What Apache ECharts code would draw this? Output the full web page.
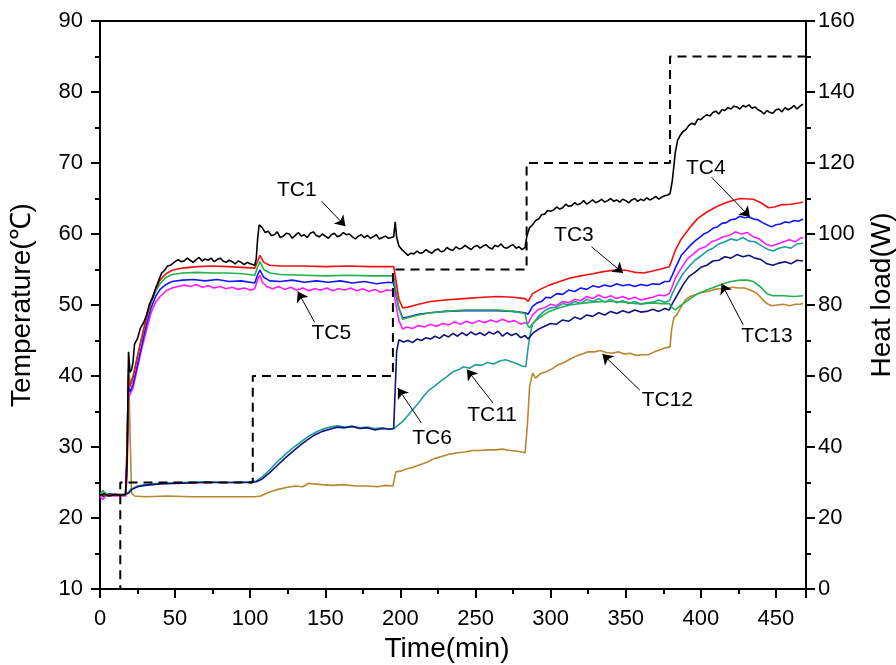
<!DOCTYPE html>
<html>
<head>
<meta charset="utf-8">
<script src="https://cdn.jsdelivr.net/npm/echarts@6/dist/echarts.min.js"></script>
<style>
  html, body { margin: 0; padding: 0; background: #fff; }
  #chart { width: 896px; height: 665px; }
</style>
</head>
<body>
<div id="chart"></div>
<script>
// Thermocouple temperatures [time (min), temperature (°C)]
const tc1 = [[0,23.2],[3,23.4],[6,23.1],[10,23.3],[14,23.2],[17,23.3],[18,28],[19,43.4],[20,40.5],[21,40.9],[22,42],[23,44.5],[25,45.3],[27,46.8],[29,47.5],[31,48.6],[33,50.2],[35,51.0],[37,52.3],[39,53.4],[41,54.5],[43,54.9],[45,55.5],[47,55.6],[50,56.1],[52,56.4],[54,56.1],[56,56.2],[58,56.6],[60,56.3],[62,56.0],[64,56.4],[66,56.7],[68,56.2],[70,56.5],[72,56.3],[74,56.6],[76,56.1],[78,56.4],[80,56.6],[82,56.2],[84,56.0],[86,56.3],[88,56.1],[90,55.8],[92,56.2],[94,56.0],[96,55.7],[98,56.0],[100,55.8],[103,55.6],[104,56.5],[105,59.5],[106,61.3],[107,61.5],[108,60.9],[110,60.2],[112,60.4],[114,59.8],[116,59.9],[118,60.3],[120,59.5],[122,59.7],[124,60.1],[126,60.0],[128,59.4],[130,59.8],[132,60.2],[134,59.7],[136,59.9],[138,59.5],[140,60.1],[142,60.3],[144,59.8],[146,59.6],[148,60.0],[150,59.7],[152,59.4],[154,59.9],[156,60.1],[158,59.6],[160,59.8],[162,60.2],[164,59.9],[166,60.0],[168,59.6],[170,59.3],[172,59.7],[174,59.9],[176,59.5],[178,59.8],[180,59.4],[182,59.6],[184,59.9],[186,59.3],[188,59.5],[190,59.7],[192,59.4],[194,59.5],[195.5,59.6],[196.5,61.7],[197.5,59.5],[199,58.3],[201,57.8],[203,57.4],[205,57.0],[207,57.3],[209,57.2],[211,57.6],[213,57.3],[215,57.4],[217,57.8],[219,57.5],[221,57.3],[223,57.7],[225,57.9],[227,57.5],[229,57.6],[231,58.1],[233,57.8],[235,57.7],[237,58.2],[239,57.9],[241,58.0],[243,58.4],[245,58.1],[247,57.8],[249,58.2],[251,58.4],[253,58.0],[255,58.3],[257,58.5],[259,58.1],[261,57.9],[263,58.4],[265,58.2],[267,58.6],[269,58.1],[271,58.0],[273,58.3],[275,58.5],[277,58.0],[279,58.2],[281,57.8],[283,58.1],[284,59.5],[285,60.3],[286,60.9],[288,61.3],[290,61.9],[292,62.1],[294,62.7],[296,62.8],[298,63.3],[300,63.2],[302,63.4],[304,63.8],[306,63.5],[308,63.7],[310,64.2],[312,63.9],[314,64.0],[316,64.4],[318,64.1],[320,64.3],[322,64.7],[324,64.2],[326,64.5],[328,64.8],[330,64.4],[332,64.6],[334,64.9],[336,64.5],[338,64.7],[340,65.0],[342,64.6],[344,64.8],[346,64.5],[348,64.9],[350,64.7],[352,64.4],[354,64.8],[356,65.0],[358,64.6],[360,64.9],[362,64.7],[364,65.1],[366,64.8],[368,65.0],[370,65.3],[372,64.9],[374,65.2],[376,65.4],[378,65.5],[379.5,65.7],[381,67.5],[382,69.5],[383,71.5],[384.5,73.2],[386,73.8],[388,74.4],[390,74.7],[392,75.3],[394,75.6],[396,75.4],[398,76.2],[400,76.1],[402,76.5],[404,76.8],[406,76.6],[408,77.1],[410,77.3],[412,76.9],[414,77.5],[416,77.4],[418,77.8],[420,77.6],[422,78.0],[424,77.9],[426,77.6],[428,78.1],[430,77.9],[432,78.2],[434,77.7],[436,77.9],[438,77.5],[440,77.3],[442,76.9],[444,77.4],[446,77.1],[448,77.0],[450,77.5],[452,77.6],[454,77.2],[456,77.8],[458,77.5],[460,77.7],[462,78.1],[464,77.6],[466,78.0],[468,78.3]];

const tc3 = [[0,23.3],[10,23.2],[17,23.3],[18,30],[19,40.2],[20,38.5],[22,39.8],[25,42.8],[28,45.6],[31,48.3],[34,50.6],[37,52.3],[40,53.5],[44,54.4],[48,54.9],[55,55.2],[65,55.4],[75,55.5],[85,55.4],[95,55.3],[103,55.2],[105,56.2],[106.5,57.0],[109,56.0],[113,55.6],[120,55.5],[135,55.5],[150,55.4],[165,55.5],[180,55.4],[195.5,55.4],[197,53.5],[199,50.8],[201.5,49.6],[205,49.7],[212,50.1],[220,50.5],[230,50.7],[242,50.9],[255,51.1],[265,51.2],[275,51.1],[283,50.9],[285,50.5],[288,51.6],[293,52.2],[299,52.8],[306,53.3],[313,53.8],[320,54.1],[328,54.4],[335,54.7],[342,54.9],[350,54.9],[356,54.6],[362,54.5],[368,54.8],[374,55.1],[379,55.4],[381,56.5],[383,57.7],[387,59.3],[393,61.0],[398,62.2],[404,63.1],[411,63.9],[418,64.5],[426,65.0],[435,64.9],[440,64.4],[445,63.7],[449,63.8],[453,64.1],[460,64.2],[466,64.4],[468,64.5]];

const tc4 = [[0,23.2],[10,23.3],[17,23.2],[18,28],[19,38.5],[20,37.8],[22,38.8],[25,41.6],[28,44.5],[31,47.3],[34,49.6],[37,51.2],[40,52.2],[44,52.9],[48,53.3],[55,53.5],[62,53.6],[70,53.4],[78,53.6],[86,53.3],[94,53.4],[103,53.1],[105,54.3],[106.5,54.9],[109,53.9],[113,53.4],[120,53.3],[128,53.5],[136,53.2],[144,53.4],[152,53.2],[160,53.4],[168,53.1],[176,53.3],[184,53.0],[192,53.2],[195.5,53.1],[197,51.5],[199,49.5],[201.5,48.2],[205,48.3],[212,48.7],[220,48.9],[230,49.1],[242,49.2],[255,49.2],[265,49.2],[275,49.1],[283,48.9],[285,48.7],[288,49.8],[291,50.3],[294,50.5],[297,51.1],[300,51.0],[304,51.6],[308,51.5],[312,52.1],[316,51.9],[320,52.4],[324,52.2],[328,52.7],[332,52.5],[336,52.8],[340,52.6],[344,53.0],[348,52.7],[352,52.9],[356,52.6],[360,52.9],[364,52.7],[368,53.0],[372,52.9],[376,53.3],[379,53.3],[381,54.2],[383,55.2],[387,57.0],[390,57.7],[393,58.4],[396,59.0],[399,59.5],[402,60.0],[405,60.3],[408,60.8],[411,61.0],[414,61.5],[417,61.6],[420,62.0],[423,62.1],[426,62.5],[429,62.3],[432,62.4],[435,62.1],[438,62.0],[441,61.6],[444,61.3],[447,61.0],[450,61.3],[453,61.4],[456,61.7],[459,61.6],[462,61.9],[465,61.8],[468,62.1]];

const tc5 = [[0,23.0],[2,22.6],[4,23.2],[10,23.1],[17,23.1],[18,26],[19,37.0],[20,37.4],[22,38.3],[25,41.2],[28,44.0],[31,46.5],[34,48.9],[37,50.4],[40,51.2],[44,52.0],[48,52.4],[52,52.6],[56,52.8],[60,52.6],[64,52.9],[68,52.5],[72,52.7],[76,52.4],[80,52.6],[84,52.3],[88,52.5],[92,52.2],[96,52.4],[100,52.1],[103,52.3],[105,53.6],[106.5,54.2],[108,53.2],[111,52.6],[115,52.3],[119,52.6],[123,52.2],[127,52.5],[131,52.1],[135,52.4],[139,52.0],[143,52.3],[147,52.1],[151,52.4],[155,52.0],[159,52.3],[163,52.1],[167,52.4],[171,52.0],[175,52.3],[179,51.9],[183,52.2],[187,51.8],[191,52.1],[195.5,52.0],[197,50.0],[199,47.8],[201.5,46.6],[204,46.9],[208,46.7],[212,47.1],[216,46.9],[220,47.3],[224,47.0],[228,47.4],[232,47.2],[236,47.6],[240,47.3],[244,47.7],[248,47.4],[252,47.8],[256,47.5],[260,47.9],[264,47.6],[268,48.0],[272,47.6],[276,47.8],[280,47.3],[283,47.5],[285,47.4],[288,48.6],[292,49.4],[296,49.6],[300,50.1],[304,49.9],[308,50.5],[312,50.3],[316,50.8],[320,50.6],[324,51.2],[328,50.9],[332,51.4],[336,51.0],[340,51.3],[344,50.9],[348,51.2],[352,50.8],[356,51.1],[360,50.7],[364,50.9],[368,51.1],[372,51.4],[376,51.3],[379,51.6],[381,52.6],[383,53.8],[387,55.2],[391,56.5],[395,57.2],[399,57.9],[403,58.2],[407,58.9],[411,59.2],[415,59.6],[419,59.8],[423,60.3],[427,60.0],[431,60.2],[435,59.6],[439,59.3],[443,58.6],[447,58.3],[451,58.6],[455,58.9],[459,59.2],[463,58.9],[466,59.4],[468,59.5]];

const tc6 = [[0,23.3],[3,23.0],[6,23.4],[10,23.3],[17,23.3],[19,23.5],[21,24.0],[25,24.4],[30,24.6],[40,24.8],[55,24.9],[70,25.0],[85,25.0],[100,25.0],[104,25.1],[108,25.5],[113,26.4],[118,27.4],[123,28.4],[128,29.3],[133,30.2],[138,31.0],[143,31.7],[148,32.2],[153,32.5],[158,32.8],[163,32.7],[168,32.9],[173,32.6],[178,32.7],[183,32.4],[188,32.6],[193,32.5],[195.5,32.6],[196.5,38],[197.5,43.5],[199,45.1],[202,44.8],[205,45.0],[208,44.7],[211,45.2],[214,45.0],[217,45.4],[220,45.2],[223,45.6],[226,45.3],[229,45.8],[232,45.5],[235,46.0],[238,45.6],[241,46.1],[244,45.7],[247,46.2],[250,45.8],[253,46.1],[256,45.7],[259,46.2],[262,45.9],[265,46.3],[268,45.6],[271,46.1],[274,45.7],[277,46.0],[280,45.4],[283,45.7],[285,45.2],[288,46.0],[292,46.6],[296,47.0],[300,47.4],[304,47.3],[308,47.9],[312,47.7],[316,48.3],[320,48.0],[324,48.6],[328,48.4],[332,48.9],[336,48.6],[340,49.1],[344,48.8],[348,49.2],[352,48.9],[356,49.3],[360,49.0],[364,49.1],[368,49.4],[372,49.1],[376,49.5],[379,49.3],[381,50.2],[384,51.3],[388,52.8],[392,54.0],[396,54.6],[400,55.3],[404,55.6],[408,56.2],[412,56.3],[416,56.8],[420,56.6],[424,57.1],[428,56.8],[432,57.0],[436,56.6],[440,56.4],[444,55.8],[448,55.6],[452,55.9],[456,56.1],[460,55.8],[464,56.3],[468,56.2]];

const tc11 = [[0,23.1],[3,23.6],[6,23.2],[10,23.3],[17,23.3],[19,23.6],[21,24.1],[25,24.5],[30,24.7],[40,24.9],[55,25.0],[70,25.1],[85,25.0],[100,25.1],[104,25.2],[108,25.8],[113,26.8],[118,27.9],[123,28.9],[128,29.8],[133,30.6],[138,31.4],[143,32.0],[148,32.5],[153,32.8],[158,33.0],[163,32.8],[168,32.9],[173,32.7],[178,32.8],[183,32.6],[188,32.7],[193,32.5],[196,32.6],[198,33.0],[201,33.5],[204,34.2],[208,35.2],[212,36.2],[216,37.3],[219,38.0],[223,38.6],[227,39.3],[231,39.9],[235,40.6],[239,40.9],[242,41.3],[246,41.1],[250,41.6],[254,41.5],[258,41.9],[262,41.7],[266,42.1],[270,42.3],[274,42.0],[278,41.7],[281,41.4],[283.5,41.3],[285,44.0],[286.5,46.0],[288,47.3],[292,48.4],[296,49.2],[300,49.6],[304,49.7],[308,50.2],[312,50.0],[316,50.5],[320,50.2],[324,50.8],[328,50.5],[332,50.9],[336,50.4],[340,50.8],[344,50.3],[348,50.6],[352,50.2],[356,50.5],[360,50.1],[364,50.3],[368,50.4],[372,50.7],[376,50.4],[379,50.6],[381,51.6],[384,52.9],[388,54.4],[392,55.4],[396,56.3],[400,56.9],[404,57.6],[408,58.0],[412,58.6],[416,58.9],[420,59.3],[424,59.1],[428,59.5],[432,59.0],[436,58.9],[440,58.4],[444,57.9],[448,57.6],[452,58.0],[456,58.2],[460,58.0],[464,58.6],[468,58.7]];

const tc12 = [[0,23.1],[10,23.2],[17,23.2],[18,26],[19,40.9],[20,32],[21,23.5],[23,23.1],[30,23.0],[45,23.1],[60,23.0],[75,23.0],[90,23.0],[103,23.0],[107,23.1],[112,23.6],[118,24.0],[124,24.3],[130,24.5],[135,24.4],[139,24.9],[142,24.8],[148,24.7],[155,24.6],[162,24.7],[170,24.5],[178,24.5],[185,24.4],[190,24.6],[195,24.5],[196,25.5],[197,26.5],[200,26.6],[204,26.9],[208,27.1],[213,27.5],[218,27.9],[223,28.4],[228,28.7],[233,29.0],[238,29.2],[243,29.3],[248,29.5],[253,29.5],[258,29.6],[263,29.6],[268,29.7],[273,29.5],[278,29.4],[283,29.2],[284.5,33],[286,38.5],[288,40.4],[290,39.7],[293,40.3],[297,40.6],[301,41.0],[305,41.6],[309,41.9],[313,42.4],[317,42.8],[321,43.1],[325,43.4],[329,43.4],[333,43.6],[337,43.3],[341,43.2],[345,43.4],[349,43.1],[353,43.2],[357,42.9],[361,43.0],[365,43.0],[369,43.4],[373,43.7],[377,44.0],[379.5,44.1],[380.5,46.5],[382,48.2],[384,48.6],[387,49.8],[390,50.8],[393,51.2],[397,51.5],[401,51.8],[405,51.9],[409,52.2],[413,52.3],[417,52.4],[421,52.5],[425,52.4],[429,52.4],[433,52.1],[437,51.7],[441,50.8],[444,50.2],[447,49.9],[451,50.0],[455,50.1],[459,49.9],[463,50.1],[466,50.1],[468,50.2]];

const tc13 = [[0,23.3],[2,23.9],[4,23.1],[10,23.2],[17,23.2],[18,30],[19,40.9],[20,39.0],[22,40.0],[25,42.9],[28,45.6],[31,48.2],[34,50.3],[37,51.9],[40,53.0],[44,53.9],[48,54.3],[55,54.5],[65,54.6],[75,54.5],[85,54.5],[95,54.4],[103,54.2],[105,55.4],[106.5,56.1],[109,55.0],[113,54.5],[120,54.3],[135,54.2],[150,54.1],[165,54.2],[180,54.1],[195.5,54.1],[197,52.0],[199,49.5],[201.5,48.0],[205,48.2],[212,48.6],[220,48.9],[230,49.1],[242,49.3],[255,49.3],[265,49.3],[275,49.1],[283,48.8],[284.5,47.2],[286,46.8],[288,47.4],[293,48.3],[299,49.1],[306,49.6],[313,50.0],[320,50.2],[328,50.4],[335,50.5],[342,50.5],[350,50.4],[356,50.2],[362,50.2],[368,50.3],[374,50.2],[379,50.2],[381,49.6],[383,49.3],[387,50.0],[393,50.9],[398,51.6],[404,52.1],[410,52.6],[415,53.0],[420,53.3],[426,53.5],[431,53.5],[435,53.3],[440,52.5],[444,51.6],[448,51.3],[455,51.3],[462,51.2],[468,51.3]];

// Heater power steps [time (min), heat load (W)]
const heatLoad = [[0,0],[13.5,0],[13.5,30],[101.7,30],[101.7,60],[195,60],[195,90],[284,90],[284,120],[379.5,120],[379.5,150],[470,150]];

// Callout labels: text anchor and arrow (from -> to), in data units
const calloutNames = ['TC1','TC5','TC3','TC4','TC6','TC11','TC12','TC13'];
const calloutText  = [[131,66.2],[154,46.0],[315.5,59.8],[403.3,69.2],[221,31.2],[261,34.5],[377.7,36.6],[444,45.6]];
const arrowFrom    = [[147.5,64.6],[142.8,47.6],[327.2,58.2],[407.1,68.0],[213.9,33.4],[261.6,36.2],[359.4,38.0],[428.2,47.2]];
const arrowTo      = [[163.4,61.1],[131.7,51.9],[348.2,54.5],[432.7,62.4],[198.3,38.3],[244.3,40.9],[334.5,43.1],[413.8,53.0]];

const font = "'Liberation Sans', Arial, sans-serif";

function tcLine(name, data, color) {
  return {
    name, type: 'line', data, yAxisIndex: 0,
    showSymbol: false, symbol: 'none', animation: false, silent: true,
    lineStyle: { color, width: 1.6 }
  };
}

const chart = echarts.init(document.getElementById('chart'), null, { renderer: 'canvas' });

const axisCommon = {
  axisLine: { show: true, lineStyle: { color: '#000', width: 2 } },
  axisTick: { show: true, length: 9, lineStyle: { color: '#000', width: 2 } },
  minorTick: { show: true, splitNumber: 2, length: 5, lineStyle: { color: '#000', width: 2 } },
  splitLine: { show: false },
  axisLabel: { color: '#000', fontSize: 22, fontFamily: font },
  nameTextStyle: { color: '#000', fontSize: 28, fontFamily: font }
};

chart.setOption({
  animation: false,
  backgroundColor: '#fff',
  grid: {
    left: 100, right: 90, top: 21, bottom: 76,
    show: true, borderColor: '#000', borderWidth: 2,
    containLabel: false, outerBoundsMode: 'none'
  },
  xAxis: Object.assign({}, axisCommon, {
    type: 'value', min: 0, max: 470, interval: 50,
    name: 'Time(min)', nameLocation: 'middle', nameGap: 46,
    nameTextStyle: Object.assign({}, axisCommon.nameTextStyle, { padding: [0, 12, 0, 0] }),
    axisLabel: Object.assign({}, axisCommon.axisLabel, {
      margin: 19, showMaxLabel: false,
      formatter: v => (v % 50 === 0 ? String(v) : '')
    })
  }),
  yAxis: [
    Object.assign({}, axisCommon, {
      type: 'value', min: 10, max: 90, interval: 10, position: 'left',
      name: 'Temperature(℃)', nameLocation: 'middle', nameGap: 64,
      axisLabel: Object.assign({}, axisCommon.axisLabel, { margin: 17 })
    }),
    Object.assign({}, axisCommon, {
      type: 'value', min: 0, max: 160, interval: 20, position: 'right',
      name: 'Heat load(W)', nameLocation: 'middle', nameGap: 62,
      nameTextStyle: Object.assign({}, axisCommon.nameTextStyle, { padding: [0, 0, 0, 20] }),
      axisLabel: Object.assign({}, axisCommon.axisLabel, { margin: 12 })
    })
  ],
  series: [
    tcLine('TC12', tc12, '#b8862e'),
    tcLine('TC11', tc11, '#1e9e9a'),
    tcLine('TC6', tc6, '#10107e'),
    tcLine('TC5', tc5, '#ff1aff'),
    tcLine('TC4', tc4, '#1414ff'),
    tcLine('TC13', tc13, '#22b14c'),
    tcLine('TC3', tc3, '#f01010'),
    tcLine('TC1', tc1, '#000000'),
    {
      name: 'Heat load', type: 'line', data: heatLoad, yAxisIndex: 1,
      showSymbol: false, symbol: 'none', animation: false, silent: true,
      lineStyle: { color: '#000', width: 2, type: [9, 6] }
    },
    {
      name: 'callouts', type: 'scatter', yAxisIndex: 0, silent: true,
      symbolSize: 2, itemStyle: { color: 'rgba(0,0,0,0)', opacity: 1 },
      labelLayout: { hideOverlap: false },
      data: calloutNames.map((n, i) => ({ name: n, value: calloutText[i] })),
      label: {
        show: true, position: 'inside', formatter: p => p.name,
        color: '#000', fontSize: 21, fontFamily: font,
        textBorderWidth: 0, textBorderColor: 'transparent'
      },
      markLine: {
        silent: true, animation: false,
        symbol: ['none', 'arrow'], symbolSize: 10,
        label: { show: false },
        itemStyle: { color: '#000', opacity: 1 },
        lineStyle: { color: '#000', width: 1, type: 'solid', opacity: 1 },
        emphasis: { disabled: true },
        data: arrowFrom.map((a, i) => [{ coord: a }, { coord: arrowTo[i] }])
      }
    }
  ]
});
</script>
</body>
</html>
